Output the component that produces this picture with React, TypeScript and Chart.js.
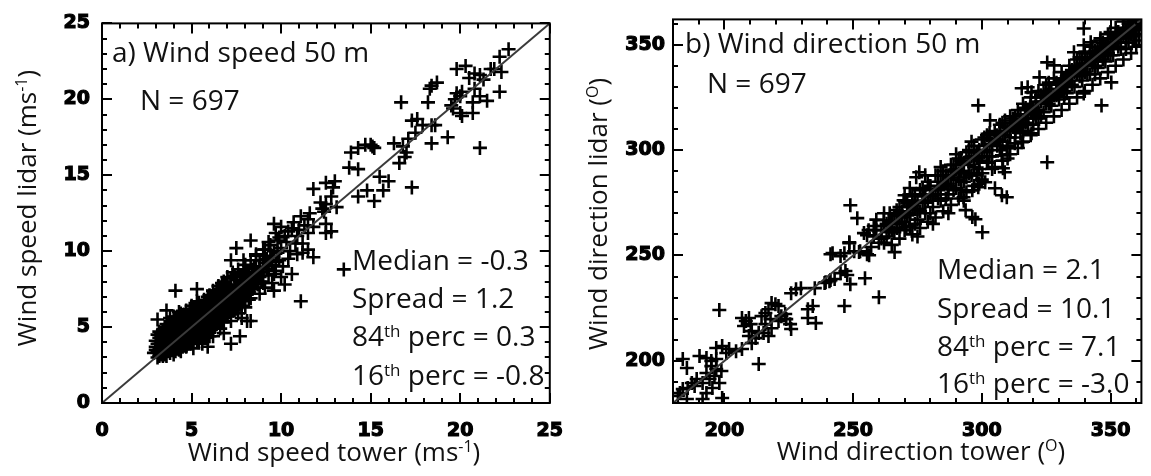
import React, { useEffect, useRef } from "react";
import { Chart, registerables } from "chart.js";

Chart.register(...registerables);

// ---------- tick arrays ----------
const speedMajorTicks = [0, 5, 10, 15, 20, 25];
const speedMinorTicks = [0, 1, 2, 3, 4, 5, 6, 7, 8, 9, 10, 11, 12, 13, 14, 15, 16, 17, 18, 19, 20, 21, 22, 23, 24, 25];
const dirMajorTicks = [200, 250, 300, 350];
const dirMinorTicks = [180, 190, 200, 210, 220, 230, 240, 250, 260, 270, 280, 290, 300, 310, 320, 330, 340, 350, 360];
const speedRange = [0, 25];
const dirRange = [180, 362];

// ---------- 1:1 lines ----------
const speedOneToOne = [[0, 0], [25, 25]];
const dirOneToOne = [[180, 180], [362, 362]];

// ---------- texts ----------
const speedTitle = "a) Wind speed 50 m";
const dirTitle = "b) Wind direction 50 m";
const countLabel = "N = 697";
const speedStats = ["Median = -0.3", "Spread = 1.2", "84|th| perc = 0.3", "16|th| perc = -0.8"];
const dirStats = ["Median = 2.1", "Spread = 10.1", "84|th| perc = 7.1", "16|th| perc = -3.0"];
const speedXTitle = "Wind speed tower (ms|-1|)";
const speedYTitle = "Wind speed lidar (ms|-1|)";
const dirXTitle = "Wind direction tower (|O|)";
const dirYTitle = "Wind direction lidar (|O|)";

// ---------- data: [tower, lidar] ----------
const speedPoints = [
  [2.9,3.3],[3.0,3.7],[3.0,4.1],[3.1,3.0],[3.1,4.5],[3.2,3.5],[3.2,3.9],[3.3,4.3],[3.3,3.2],[3.4,4.8],[3.4,3.7],
  [3.5,4.1],[3.5,3.4],[3.6,5.2],[3.6,4.5],[3.6,3.1],[3.7,3.8],[3.7,4.9],[3.8,4.2],[3.8,5.6],[3.9,3.5],[3.9,4.6],[4.0,5.1],[4.0,3.9],[4.0,3.2],[4.1,4.4],[4.1,5.5],
  [4.2,4.9],[4.2,3.6],[4.3,6.0],[4.3,4.2],[4.4,5.3],[4.4,3.4],[4.5,4.7],[4.5,5.8],[4.6,4.0],[4.6,5.1],[4.7,3.7],[4.7,6.1],[4.8,4.5],[4.8,5.5],[4.9,4.9],[4.9,3.9],[5.0,5.9],[5.0,4.3],[5.0,6.4],
  [5.1,5.3],[5.1,3.6],[5.2,4.7],[5.2,6.2],[5.3,5.7],[5.3,4.1],[5.4,5.0],[5.4,6.6],[5.5,4.5],[5.5,5.4],[5.6,6.0],[5.6,3.9],[5.7,4.9],[5.7,6.8],[5.8,5.6],[5.8,4.3],[5.9,6.3],[5.9,5.1],[6.0,7.1],[6.0,4.7],[6.0,5.8],
  [6.1,6.6],[6.1,5.3],[6.2,7.4],[6.2,4.4],[6.3,6.0],[6.3,5.0],[6.4,6.9],[6.4,5.6],[6.5,7.7],[6.5,6.3],[6.6,4.9],[6.6,7.2],[6.7,5.9],[6.7,6.7],[6.8,8.0],[6.8,5.3],[6.9,7.4],[6.9,6.3],[7.0,7.0],[7.0,5.7],[7.0,8.3],
  [7.1,6.6],[7.2,7.7],[7.2,5.4],[7.3,8.6],[7.3,6.1],[7.4,7.2],[7.5,8.1],[7.5,6.7],[7.6,5.9],[7.6,8.8],[7.7,7.5],[7.8,6.4],[7.8,8.4],[7.9,7.0],[8.0,9.1],[8.0,7.8],[8.0,6.3],
  [8.1,8.6],[8.2,7.3],[8.3,9.4],[8.3,6.9],[8.4,8.1],[8.5,9.0],[8.5,7.6],[8.6,9.8],[8.7,8.5],[8.8,7.2],[8.8,9.4],[8.9,8.0],[9.0,10.1],[9.0,8.8],[9.1,7.6],
  [9.2,9.5],[9.3,8.4],[9.4,10.4],[9.5,9.1],[9.5,7.9],[9.6,10.0],[9.7,8.7],[9.8,10.7],[9.9,9.4],[10.0,8.3],[10.0,10.2],[10.1,9.0],[10.2,11.0],
  [3.1,3.4],[3.3,3.8],[3.4,4.2],[3.5,4.6],[3.6,3.8],[3.7,4.3],[3.8,3.3],[3.9,5.0],[4.0,4.6],[4.1,3.8],[4.2,5.3],[4.3,3.8],[4.4,4.5],[4.5,4.1],[4.6,5.5],[4.7,4.3],[4.8,5.0],[4.9,5.7],[5.0,4.7],[5.1,5.8],
  [5.2,4.3],[5.3,5.2],[5.4,4.5],[5.5,6.3],[5.6,5.2],[5.7,5.7],[5.8,6.5],[5.9,4.6],[6.0,6.1],[6.1,5.7],[6.2,6.4],[6.3,7.0],[6.4,5.2],[6.5,5.8],[6.6,6.7],[6.7,7.5],[6.8,6.0],[6.9,6.8],[7.0,6.2],[7.1,7.5],
  [7.2,7.0],[7.4,6.5],[7.5,7.4],[7.7,6.9],[7.8,7.8],[7.9,8.6],[8.1,7.5],[8.2,8.2],[8.4,8.8],[8.6,8.2],[8.9,8.6],[9.1,9.2],
  [3.2,4.7],[3.4,3.1],[3.5,5.0],[3.7,3.4],[3.8,4.7],[3.9,4.1],[4.0,5.7],[4.1,3.4],[4.2,4.1],[4.3,4.8],[4.4,5.9],[4.5,3.7],[4.6,4.6],[4.7,5.6],[4.8,3.9],[4.9,6.2],[5.0,5.2],[5.1,4.1],
  [5.2,5.5],[5.3,6.7],[5.4,4.0],[5.5,5.9],[5.6,4.7],[5.7,6.3],[5.8,5.1],[5.9,7.0],[6.0,5.3],[6.1,4.9],[6.2,6.8],[6.3,5.5],[6.4,7.4],[6.5,5.3],[6.6,6.2],[6.7,5.4],[6.8,7.0],[6.9,5.8],
  [7.0,7.6],[7.1,6.0],[7.2,8.2],[7.3,6.8],[7.4,7.8],[7.5,6.2],[7.6,7.1],[7.7,8.0],[7.9,6.7],[8.0,8.4],[8.2,6.8],[8.3,7.8],[8.5,8.4],[8.7,7.8],[8.8,8.9],[9.0,7.9],[9.2,8.8],[9.4,9.6],[9.6,8.5],[9.8,9.9],
  [3.0,3.5],[3.1,3.9],[3.2,4.3],[3.3,4.6],[3.4,3.4],[3.5,3.8],[3.6,4.2],[3.7,5.1],[3.8,3.8],[3.9,4.3],[4.0,4.2],[4.1,5.0],[4.2,4.5],[4.3,5.2],[4.4,4.0],[4.5,5.3],[4.6,4.3],[4.7,4.9],
  [4.8,5.8],[4.9,4.4],[5.0,5.5],[5.1,4.9],[5.2,5.9],[5.3,4.7],[5.4,5.4],[5.5,5.0],[5.6,5.6],[5.7,5.3],[5.8,6.0],[5.9,5.5],[6.0,6.5],[6.1,6.1],[6.2,5.7],[6.3,6.5],[6.4,6.2],[6.5,6.8],
  [6.6,5.7],[6.7,6.4],[6.8,6.6],[6.9,7.0],[7.0,6.6],[7.1,7.1],[7.3,7.4],[7.4,6.9],[7.6,7.6],[7.7,7.2],[7.9,7.6],[8.0,8.0],[8.2,8.6],[8.4,7.5],[8.6,8.9],[8.8,8.3],[9.0,9.4],[9.3,9.0],[9.5,9.7],[9.7,9.3],
  [3.2,3.1],[3.4,4.5],[3.5,3.2],[3.6,4.8],[3.7,3.6],[3.8,5.0],[3.9,3.8],[4.0,4.9],[4.1,4.1],[4.2,5.7],[4.3,3.5],[4.4,4.8],[4.5,4.4],[4.6,5.8],[4.7,5.2],[4.8,4.2],[4.9,5.3],[5.0,3.9],
  [5.1,6.1],[5.2,5.1],[5.3,4.4],[5.4,5.8],[5.5,4.8],[5.6,6.4],[5.7,4.5],[5.8,5.9],[5.9,5.8],[6.0,4.4],[6.1,7.0],[6.2,5.1],[6.3,6.8],[6.4,5.9],[6.5,6.0],[6.6,7.5],[6.7,6.1],[6.8,6.3],
  [6.9,7.7],[7.0,5.9],[7.1,6.9],[7.2,6.4],[7.3,7.1],[7.4,8.4],[7.5,7.0],[7.6,6.5],[7.7,8.3],[7.8,7.1],[7.9,7.9],[8.1,8.1],[8.2,7.7],[8.4,8.5],[8.6,7.9],
  [3.6,6.1],[4.1,7.4],[5.3,7.5],[6.7,7.9],[3.1,5.5],[5.9,3.7],[7.2,3.9],[7.7,4.4],[6.8,4.6],[8.1,5.4],[7.8,5.6],[7.4,6.1],[8.3,5.4],[9.6,7.4],[10.2,7.8],[10.6,8.5],[11.1,6.7],[13.5,8.8],
  [11.1,12.3],[10.7,11.9],[11.5,12.1],[11.6,12.5],[11.0,11.4],[11.8,11.6],[11.5,11.2],[10.9,11.0],[11.2,10.5],[10.4,11.3],[9.6,11.8],[10.0,11.6],[9.7,11.2],[11.8,9.6],[11.2,9.9],[11.5,10.1],
  [8.3,10.7],[7.5,10.2],[7.2,9.4],[7.9,9.4],[8.6,9.7],[9.1,10.1],[9.3,10.6],[9.9,10.9],[10.3,10.6],[10.5,10.0],[10.8,10.5],[10.4,9.5],[10.9,9.8],[11.3,11.7],[10.6,11.5],
  [11.8,14.1],[12.5,14.5],[13.0,14.6],[12.8,13.6],[12.2,13.2],[12.3,12.8],[12.4,12.6],[13.1,12.9],[12.5,11.2],[12.8,11.3],[12.5,11.8],[12.9,14.2],[12.5,13.1],
  [13.8,15.5],[14.3,15.4],[15.5,14.9],[16.0,14.6],[17.3,14.2],[14.8,14.0],[14.3,13.6],[15.2,13.3],[15.7,14.0],
  [13.9,16.5],[14.3,16.8],[14.7,17.0],[15.0,17.0],[15.2,16.8],[16.3,17.1],[15.1,16.9],
  [17.3,18.6],[17.6,18.7],[17.9,18.3],[17.5,17.8],[17.1,17.4],[16.8,16.9],[17.0,16.5],[16.9,16.2],[16.6,15.8],[18.6,18.3],[18.4,18.3],
  [16.7,19.8],[18.2,19.8],[18.3,20.7],[18.4,20.9],[18.7,21.1],[19.3,17.5],[18.4,17.1],[21.1,16.8],[22.2,20.5],
  [19.8,20.4],[20.0,20.2],[19.7,20.0],[19.5,19.6],[19.6,19.4],[20.0,19.1],[20.7,19.1],[20.8,20.7],[21.1,20.2],[20.7,19.8],[21.5,19.9],[20.1,18.9],[20.1,20.5],
  [19.8,22.0],[20.3,22.2],[20.8,21.7],[21.1,21.6],[21.7,22.0],[22.3,21.8],[21.9,22.0],[22.7,23.3],[22.2,22.8],[21.3,21.3],[20.5,21.4]
];

const dirPoints = [
  [183.8,200.9],[185.4,196.6],[190.3,202.3],[193.0,201.3],[194.9,199.9],[196.8,200.9],[194.9,197.5],[196.8,196.1],[193.0,194.2],[189.2,191.4],[187.3,189.5],[183.8,186.6],[181.9,183.3],
  [182.7,184.7],[185.7,187.1],[188.4,188.1],[191.5,189.5],[194.2,191.4],[196.1,192.8],[198.8,195.2],[198.0,189.5],[195.3,187.1],[193.0,184.7],[191.5,181.9],[199.1,182.4],[185.4,181.9],
  [198.0,224.1],[196.8,206.1],[199.1,207.0],[201.8,205.6],[204.5,204.6],[206.8,205.6],[200.7,203.7],
  [210.6,208.4],[212.1,210.8],[213.3,213.2],[209.5,211.8],[213.3,198.5],
  [206.8,220.3],[208.3,218.9],[209.5,220.3],[210.2,217.4],[207.6,216.5],[210.6,214.1],
  [214.4,221.2],[215.9,222.7],[217.1,224.5],[218.3,227.4],[219.8,226.9],[221.0,226.0],[217.9,219.8],[215.9,217.4],[218.3,215.5],[221.0,218.9],[222.1,221.2],[223.6,222.2],[224.0,219.8],[225.9,215.1],[225.5,217.4],[215.2,213.2],[217.1,211.8],
  [225.9,232.1],[227.8,234.0],[229.7,234.5],[232.4,224.5],[234.3,226.0],[232.4,220.3],[235.5,217.9],
  [235.1,234.5],[238.9,236.9],[240.8,237.8],[242.8,238.8],
  [241.2,250.6],[245.1,249.7],[246.6,251.1],[248.5,255.8],[252.7,252.0],[255.4,250.6],[250.4,252.0],[245.1,241.6],[247.0,242.6],[248.9,236.4],[246.6,226.0],[254.6,239.2],
  [248.9,273.8],[251.6,267.7],[254.2,260.6],[255.4,259.6],[248.5,256.3],[242.0,251.1],[252.3,251.6],[256.2,250.1],
  [247.7,240.7],[241.2,238.3],[239.3,237.3],[260.0,230.2],[266.1,251.6],
  [261.9,266.7],[264.2,270.0],[266.9,271.5],[269.6,276.2],[266.9,265.3],[270.0,278.6],[270.7,263.4],
  [256,262],[257,254],[258,259],[259,267],[260,256],[261,262],[262,270],[263,259],[264,266],[265,255],[266,269],[267,263],[268,273],[268,258],[269,266],[270,262],[270,276],
  [271,269],[272,264],[273,279],[273,260],[274,272],[275,267],[276,281],[276,263],[277,275],[278,270],[279,285],[279,266],[280,278],[281,273],[282,288],[282,268],[283,281],[284,276],[285,271],[285,290],
  [286,284],[287,279],[288,293],[288,274],[289,287],[290,282],[291,296],[291,277],[292,290],[293,285],[294,299],[294,280],[295,293],[296,288],[297,302],[297,283],[298,296],[299,291],[300,305],[300,286],
  [272,282],[275,259],[278,288],[281,265],[284,292],[287,270],[290,298],[293,276],[296,304],[299,284],[265,266],[272,273],[278,279],[284,285],[290,291],[296,297],
  [301,299],[302,307],[302,294],[303,302],[304,297],[305,309],[305,292],[306,305],[307,300],[308,313],[308,295],[309,307],[310,302],[311,316],[311,298],[312,311],[313,306],[314,319],[314,301],[315,314],[315,308],
  [316,322],[316,304],[317,317],[318,312],[319,325],[319,307],[320,320],[321,315],[322,328],[322,310],[323,323],[324,318],[325,331],[325,313],[326,326],[327,321],[328,334],[328,316],[329,329],[330,324],
  [331,337],[331,319],[332,332],[333,327],[334,340],[334,322],[335,335],[336,330],[337,343],[337,325],[338,338],[339,333],[340,346],[340,328],[341,341],[342,336],[343,349],[343,331],[344,344],[345,339],
  [346,352],[346,334],[347,347],[348,342],[349,355],[349,337],[350,350],[351,345],[352,358],[352,340],[353,353],[354,348],[355,361],[355,343],[356,356],[357,351],[358,360],[358,346],[359,354],[360,358],[360,349],[361,361],[361,352],
  [303,305],[309,311],[315,317],[321,323],[327,329],[333,335],[339,341],[345,347],[351,353],[357,358],[354,355],[348,349],[342,343],[336,337],[330,331],[324,325],[318,319],[312,313],[306,307],
  [350,345],[353,349],[356,351],[359,357],[347,343],[344,340],[357,362],
  [258,264],[262,256],[266,261],[269,271],[274,265],[277,282],[280,270],[283,288],[286,277],[289,293],[292,281],[295,300],[298,288],[301,306],[304,291],[307,312],[310,296],[313,316],[316,309],[319,318],
  [322,315],[325,322],[328,326],[331,329],[334,333],[337,336],[340,337],[343,344],[346,345],[349,350],[352,351],[355,354],[358,355],[361,357],[320,312],[326,332],[332,325],[338,344],[344,336],[350,356],[356,348],
  [259,262],[261,258],[263,265],[264,261],[267,270],[268,265],[271,275],[272,270],[274,278],[275,272],[276,271],[277,279],[279,276],[280,283],[281,279],[283,277],[284,282],[286,288],[287,283],[288,287],
  [289,281],[291,289],[292,295],[293,290],[294,287],[295,296],[297,292],[298,299],[299,295],[300,297],[302,300],[303,308],[304,303],[306,302],[307,308],[308,304],[310,309],[311,306],[312,315],[313,310],
  [314,312],[316,313],[317,320],[318,315],[320,317],[321,325],[322,319],[323,316],[324,328],[326,322],[327,325],[329,332],[330,327],[331,333],[332,328],[333,330],[334,336],[335,331],[336,340],[338,335],
  [339,344],[340,340],[341,336],[342,346],[343,340],[344,347],[345,342],[346,348],[347,351],[348,345],[349,346],[350,353],[351,348],[352,354],[353,356],[354,351],[355,357],[356,353],[357,360],[358,357],
  [359,360],[360,355],[361,359],[362,360],
  [262,264],[265,262],[268,269],[270,268],[273,274],[275,276],[278,275],[280,281],[282,279],[285,284],[287,288],[289,290],[291,286],[293,294],[295,289],[297,297],[299,300],[301,302],[303,297],[305,305],
  [307,304],[309,314],[311,310],[313,312],[315,311],[317,313],[319,321],[321,319],[323,326],[325,327],[327,324],[329,326],[331,334],[333,332],[335,338],[337,339],[339,336],[341,344],[343,342],[345,345],
  [347,349],[349,348],[351,351],[353,351],[355,356],[357,355],[359,358],[361,362],
  [339.6,357.7],[298.6,321.2],[303.2,314.1],[325.4,341.6],[328.1,340.2],[322.4,334.5],[315.5,329.3],[317.8,329.8],[319.3,327.4],[335.8,346.4],[339.6,349.7],[342.3,351.1],[346.1,353.0],
  [350.3,332.1],[346.5,321.2],[339.6,326.9],[325.4,294.2],[307.8,278.6],[309.7,277.6],[296.3,268.2],[297.5,267.2],[300.2,261.0],[319.3,308.0],[315.5,303.7],[312.8,303.2],[309.7,300.9],
  [307.8,297.5],[302.5,294.2],[308.2,291.4],[308.9,289.5],[301.3,284.7],[298.6,282.4],[296.3,280.9],[292.9,277.6],[275.7,289.5],[274.5,287.1],[293.7,271.5],[305.1,281.9],[300.2,289.0]
];

const TEXT_FONT = '"Open Sans", "DejaVu Sans", sans-serif';
const TICK_FONT = '"DejaVu Sans", "Liberation Sans", sans-serif';

function drawRich(ctx: CanvasRenderingContext2D, text: string, x: number, y: number, size: number, align: "left" | "center") {
  const parts = text.split("|");
  const supSize = Math.round(size * 0.6);
  const widths = parts.map((p, i) => {
    ctx.font = `${i % 2 ? supSize : size}px ${TEXT_FONT}`;
    return ctx.measureText(p).width;
  });
  const total = widths.reduce((a, b) => a + b, 0);
  let cx = align === "center" ? x - total / 2 : x;
  ctx.textAlign = "left";
  ctx.textBaseline = "alphabetic";
  parts.forEach((p, i) => {
    ctx.font = `${i % 2 ? supSize : size}px ${TEXT_FONT}`;
    ctx.fillText(p, cx, i % 2 ? y - size * 0.33 : y);
    cx += widths[i];
  });
}

type PanelCfg = {
  points: number[][];
  line: number[][];
  range: number[];
  major: number[];
  minor: number[];
  axisWidth: number;
  axisHeight: number;
  padding: { left: number; right: number; top: number; bottom: number };
  yTickPad: number;
  xTickPad: number;
  title: string;
  titlePos: [number, number];
  countPos: [number, number];
  stats: string[];
  statsX: number;
  statsY: number[];
  xTitle: string;
  xTitlePos: [number, number];
  yTitle: string;
  yTitlePos: [number, number];
};

function framePlugin(cfg: PanelCfg) {
  return {
    id: "frame",
    afterDatasetsDraw(chart: any) {
      const { ctx, chartArea: a, scales } = chart;
      const xs = scales.x;
      const ys = scales.y;
      ctx.save();
      ctx.strokeStyle = "#000";
      ctx.lineWidth = 2;
      ctx.beginPath();
      for (const v of cfg.minor) {
        const len = cfg.major.includes(v) ? 10 : 5;
        const px = Math.round(xs.getPixelForValue(v));
        ctx.moveTo(px, a.bottom);
        ctx.lineTo(px, a.bottom - len);
        ctx.moveTo(px, a.top);
        ctx.lineTo(px, a.top + len);
        const py = Math.round(ys.getPixelForValue(v));
        ctx.moveTo(a.left, py);
        ctx.lineTo(a.left + len, py);
        ctx.moveTo(a.right, py);
        ctx.lineTo(a.right - len, py);
      }
      ctx.stroke();
      ctx.strokeRect(a.left, a.top, a.right - a.left, a.bottom - a.top);
      ctx.restore();
    },
    afterDraw(chart: any) {
      const { ctx, chartArea: a } = chart;
      ctx.save();
      ctx.fillStyle = "#111";
      drawRich(ctx, cfg.title, a.left + cfg.titlePos[0], a.top + cfg.titlePos[1], 28, "left");
      drawRich(ctx, countLabel, a.left + cfg.countPos[0], a.top + cfg.countPos[1], 28, "left");
      cfg.stats.forEach((s, i) => drawRich(ctx, s, a.left + cfg.statsX, a.top + cfg.statsY[i], 28, "left"));
      drawRich(ctx, cfg.xTitle, cfg.xTitlePos[0], cfg.xTitlePos[1], 26, "center");
      ctx.save();
      ctx.translate(cfg.yTitlePos[0], cfg.yTitlePos[1]);
      ctx.rotate(-Math.PI / 2);
      drawRich(ctx, cfg.yTitle, 0, 0, 26, "center");
      ctx.restore();
      ctx.restore();
    },
  };
}

function makeConfig(cfg: PanelCfg): any {
  const tickFont = { family: TICK_FONT, size: 19, weight: "bold" as const };
  const tickStyle = { font: tickFont, color: "#000", textStrokeColor: "#000", textStrokeWidth: 1.2, autoSkip: false, maxRotation: 0 };
  const scaleCommon = {
    type: "linear" as const,
    min: cfg.range[0],
    max: cfg.range[1],
    grid: { display: false, drawTicks: false },
    border: { display: false },
    afterBuildTicks: (s: any) => {
      s.ticks = cfg.major.map((v) => ({ value: v }));
    },
  };
  return {
    type: "scatter",
    data: {
      datasets: [
        {
          type: "line",
          data: cfg.line.map(([x, y]) => ({ x, y })),
          borderColor: "#3a3a3a",
          borderWidth: 2,
          pointRadius: 0,
          order: 0,
          clip: 0,
        },
        {
          type: "scatter",
          data: cfg.points.map(([x, y]) => ({ x, y })),
          pointStyle: "cross",
          pointRadius: 7,
          pointBorderWidth: 2.6,
          pointBorderColor: "#000",
          pointBackgroundColor: "#000",
          borderColor: "#000",
          backgroundColor: "#000",
          showLine: false,
          order: 1,
          clip: 0,
        },
      ],
    },
    options: {
      responsive: false,
      animation: false,
      events: [],
      devicePixelRatio: 1,
      layout: { padding: cfg.padding },
      plugins: { legend: { display: false }, tooltip: { enabled: false } },
      scales: {
        x: {
          ...scaleCommon,
          position: "bottom",
          ticks: { ...tickStyle, padding: cfg.xTickPad },
          afterFit: (s: any) => {
            s.height = cfg.axisHeight;
          },
        },
        y: {
          ...scaleCommon,
          position: "left",
          ticks: { ...tickStyle, padding: cfg.yTickPad },
          afterFit: (s: any) => {
            s.width = cfg.axisWidth;
          },
        },
      },
    },
    plugins: [framePlugin(cfg)],
  };
}

const speedCfg: PanelCfg = {
  points: speedPoints,
  line: speedOneToOne,
  range: speedRange,
  major: speedMajorTicks,
  minor: speedMinorTicks,
  axisWidth: 102,
  axisHeight: 73,
  padding: { left: 0, right: 9, top: 16, bottom: 0 },
  yTickPad: 12,
  xTickPad: 17,
  title: speedTitle,
  titlePos: [10, 39],
  countPos: [38, 87],
  stats: speedStats,
  statsX: 250,
  statsY: [247, 285, 323, 362],
  xTitle: speedXTitle,
  xTitlePos: [334, 461],
  yTitle: speedYTitle,
  yTitlePos: [36, 208],
};

const dirCfg: PanelCfg = {
  points: dirPoints,
  line: dirOneToOne,
  range: dirRange,
  major: dirMajorTicks,
  minor: dirMinorTicks,
  axisWidth: 93,
  axisHeight: 73,
  padding: { left: 0, right: 4, top: 19, bottom: 0 },
  yTickPad: 8,
  xTickPad: 17,
  title: dirTitle,
  titlePos: [12, 34],
  countPos: [34, 74],
  stats: dirStats,
  statsX: 264,
  statsY: [260, 299, 337, 374],
  xTitle: dirXTitle,
  xTitlePos: [341, 460],
  yTitle: dirYTitle,
  yTitlePos: [27, 214],
};

function Panel({ cfg, left, width }: { cfg: PanelCfg; left: number; width: number }) {
  const ref = useRef<HTMLCanvasElement | null>(null);
  useEffect(() => {
    if (!ref.current) return;
    const chart = new Chart(ref.current, makeConfig(cfg));
    return () => chart.destroy();
  }, [cfg]);
  return (
    <canvas
      ref={ref}
      width={width}
      height={476}
      style={{ position: "absolute", left, top: 0, width, height: 476 }}
    />
  );
}

export default function App() {
  useEffect(() => {
    document.body.style.margin = "0";
    document.body.style.background = "#fff";
  }, []);
  return (
    <div style={{ position: "relative", width: 1151, height: 476, background: "#fff", overflow: "hidden" }}>
      <Panel cfg={speedCfg} left={0} width={580} />
      <Panel cfg={dirCfg} left={580} width={571} />
    </div>
  );
}
